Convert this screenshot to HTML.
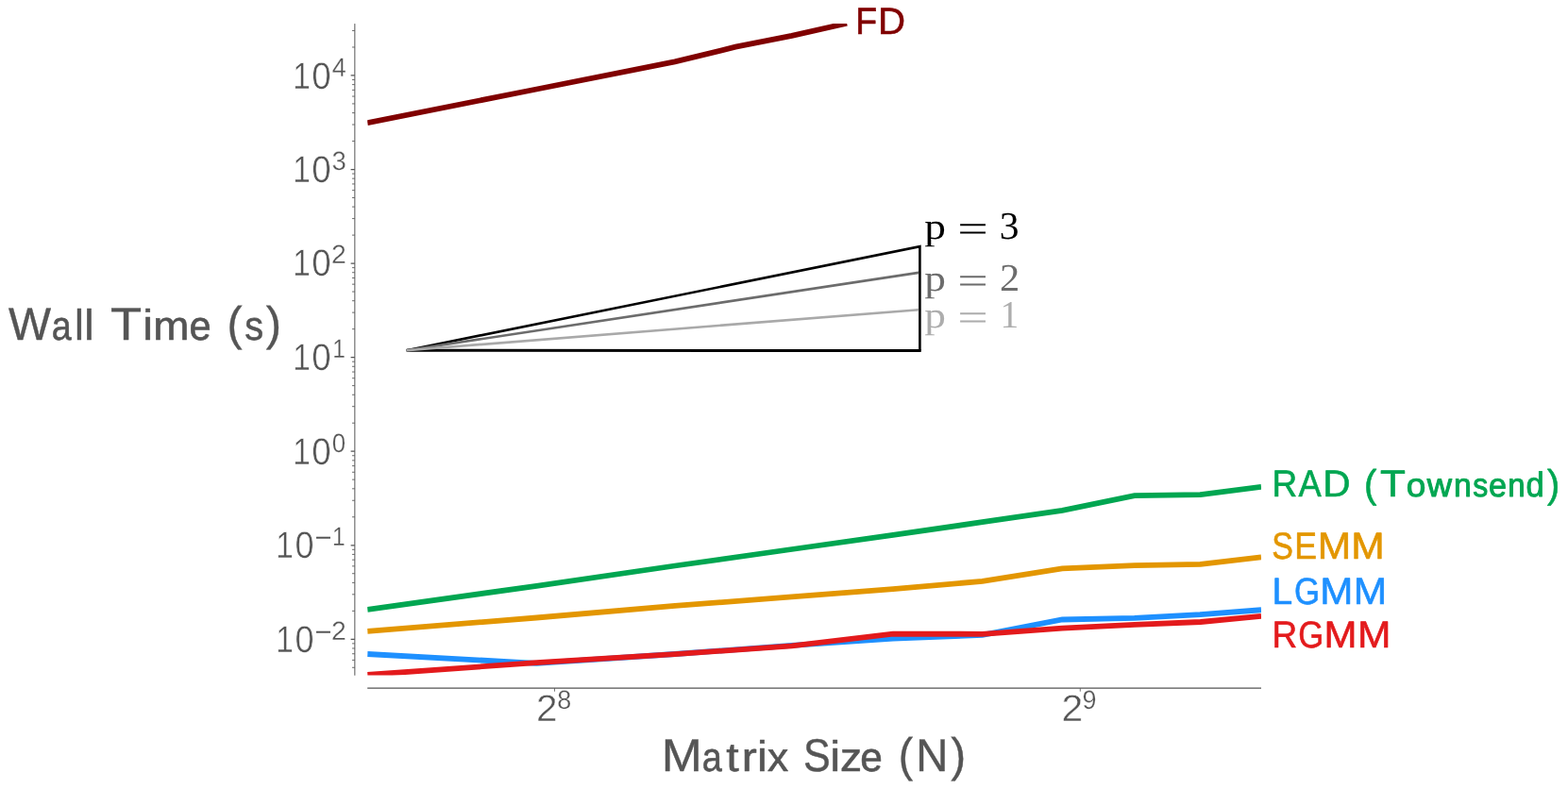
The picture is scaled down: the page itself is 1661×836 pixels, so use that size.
<!DOCTYPE html>
<html lang="en">
<head>
<meta charset="utf-8">
<title>Wall Time vs Matrix Size</title>
<style>
html,body{margin:0;padding:0;background:#ffffff;}
body{width:1661px;height:836px;overflow:hidden;}
svg{display:block;}
text{font-family:"Liberation Sans",sans-serif;text-rendering:geometricPrecision;}
.serif{font-family:"Liberation Serif",serif;}
</style>
</head>
<body>
<svg width="1661" height="836" viewBox="0 0 1661 836">
<defs><clipPath id="plot"><rect x="389.2" y="25.1" width="946.8" height="690.3"/></clipPath></defs>
<rect width="1661" height="836" fill="#ffffff"/>
<g stroke="#555555" fill="none">
<line x1="375.85" y1="25.1" x2="375.85" y2="715.7" stroke-width="1"/>
<line x1="389.2" y1="729.08" x2="1336" y2="729.08" stroke-width="1.15"/>
<path d="M371.6 677.32H375.85 M371.6 577.76H375.85 M371.6 478.2H375.85 M371.6 378.64H375.85 M371.6 279.08H375.85 M371.6 179.52H375.85 M371.6 79.96H375.85" stroke-width="1.25"/>
<path d="M373 707.29H375.85 M373 699.41H375.85 M373 692.74H375.85 M373 686.97H375.85 M373 681.88H375.85 M373 647.35H375.85 M373 629.82H375.85 M373 617.38H375.85 M373 607.73H375.85 M373 599.85H375.85 M373 593.18H375.85 M373 587.41H375.85 M373 582.32H375.85 M373 547.79H375.85 M373 530.26H375.85 M373 517.82H375.85 M373 508.17H375.85 M373 500.29H375.85 M373 493.62H375.85 M373 487.85H375.85 M373 482.76H375.85 M373 448.23H375.85 M373 430.7H375.85 M373 418.26H375.85 M373 408.61H375.85 M373 400.73H375.85 M373 394.06H375.85 M373 388.29H375.85 M373 383.2H375.85 M373 348.67H375.85 M373 331.14H375.85 M373 318.7H375.85 M373 309.05H375.85 M373 301.17H375.85 M373 294.5H375.85 M373 288.73H375.85 M373 283.64H375.85 M373 249.11H375.85 M373 231.58H375.85 M373 219.14H375.85 M373 209.49H375.85 M373 201.61H375.85 M373 194.94H375.85 M373 189.17H375.85 M373 184.08H375.85 M373 149.55H375.85 M373 132.02H375.85 M373 119.58H375.85 M373 109.93H375.85 M373 102.05H375.85 M373 95.38H375.85 M373 89.61H375.85 M373 84.52H375.85 M373 49.99H375.85 M373 32.46H375.85" stroke-width="0.85"/>
<path d="M587.5 729.08V732.68 M1144.3 729.08V732.68" stroke-width="0.8"/>
</g>
<g fill="#555555" font-size="39.8" stroke="#ffffff" stroke-width="0.5" stroke-linejoin="round">
<text y="94"><tspan x="310.23" textLength="18.6" lengthAdjust="spacingAndGlyphs">1</tspan><tspan x="330.36" textLength="20.49" lengthAdjust="spacingAndGlyphs">0</tspan><tspan y="81" font-size="27.9" stroke-width="0.26"><tspan x="351.67" textLength="15" lengthAdjust="spacingAndGlyphs">4</tspan></tspan></text>
<text y="193"><tspan x="310.23" textLength="18.6" lengthAdjust="spacingAndGlyphs">1</tspan><tspan x="330.36" textLength="20.49" lengthAdjust="spacingAndGlyphs">0</tspan><tspan y="180" font-size="27.9" stroke-width="0.26"><tspan x="351.46" textLength="15.32" lengthAdjust="spacingAndGlyphs">3</tspan></tspan></text>
<text y="292"><tspan x="310.23" textLength="18.6" lengthAdjust="spacingAndGlyphs">1</tspan><tspan x="330.36" textLength="20.49" lengthAdjust="spacingAndGlyphs">0</tspan><tspan y="279" font-size="27.9" stroke-width="0.26"><tspan x="351.07" textLength="15.77" lengthAdjust="spacingAndGlyphs">2</tspan></tspan></text>
<text y="392"><tspan x="310.23" textLength="18.6" lengthAdjust="spacingAndGlyphs">1</tspan><tspan x="330.36" textLength="20.49" lengthAdjust="spacingAndGlyphs">0</tspan><tspan y="379" font-size="27.9" stroke-width="0.26"><tspan x="352.3" textLength="13.65" lengthAdjust="spacingAndGlyphs">1</tspan></tspan></text>
<text y="492"><tspan x="310.23" textLength="18.6" lengthAdjust="spacingAndGlyphs">1</tspan><tspan x="330.36" textLength="20.49" lengthAdjust="spacingAndGlyphs">0</tspan><tspan y="479" font-size="27.9" stroke-width="0.26"><tspan x="351.83" textLength="14.36" lengthAdjust="spacingAndGlyphs">0</tspan></tspan></text>
<text y="591"><tspan x="292.23" textLength="18.6" lengthAdjust="spacingAndGlyphs">1</tspan><tspan x="312.39" textLength="20.14" lengthAdjust="spacingAndGlyphs">0</tspan><tspan y="579" font-size="27.9" stroke="none"><tspan x="333.48" textLength="17.99" lengthAdjust="spacingAndGlyphs">−</tspan></tspan><tspan y="578" font-size="27.9" stroke-width="0.26"><tspan x="352" textLength="13.65" lengthAdjust="spacingAndGlyphs">1</tspan></tspan></text>
<text y="691"><tspan x="292.23" textLength="18.6" lengthAdjust="spacingAndGlyphs">1</tspan><tspan x="312.39" textLength="20.14" lengthAdjust="spacingAndGlyphs">0</tspan><tspan y="679" font-size="27.9" stroke="none"><tspan x="333.48" textLength="17.99" lengthAdjust="spacingAndGlyphs">−</tspan></tspan><tspan y="678" font-size="27.9" stroke-width="0.26"><tspan x="351.07" textLength="15.77" lengthAdjust="spacingAndGlyphs">2</tspan></tspan></text>
<text y="764"><tspan x="568.12" textLength="22.48" lengthAdjust="spacingAndGlyphs">2</tspan><tspan y="751" font-size="27.9" stroke-width="0.26"><tspan x="590.16" textLength="14.99" lengthAdjust="spacingAndGlyphs">8</tspan></tspan></text>
<text y="764"><tspan x="1124.5" textLength="22.72" lengthAdjust="spacingAndGlyphs">2</tspan><tspan y="751" font-size="27.9" stroke-width="0.26"><tspan x="1146.56" textLength="14.99" lengthAdjust="spacingAndGlyphs">9</tspan></tspan></text>
</g>
<g fill="#555555" stroke="#555555" stroke-linejoin="round" font-size="48.8" stroke-width="0.4">
<text y="360"><tspan x="8.93" textLength="45.04" lengthAdjust="spacingAndGlyphs">W</tspan><tspan x="54.74" textLength="20.91" lengthAdjust="spacingAndGlyphs" font-size="43" stroke-width="0.6">a</tspan><tspan x="78.95" textLength="9.86" lengthAdjust="spacingAndGlyphs" font-size="45.5" stroke-width="0.4">l</tspan><tspan x="89.04" textLength="10.87" lengthAdjust="spacingAndGlyphs" font-size="45.5" stroke-width="0.4">l</tspan> <tspan x="117.09" textLength="33.17" lengthAdjust="spacingAndGlyphs">T</tspan><tspan x="150.91" textLength="11.25" lengthAdjust="spacingAndGlyphs" font-size="45.5" stroke-width="0.4">i</tspan><tspan x="162.25" textLength="38.24" lengthAdjust="spacingAndGlyphs" font-size="43" stroke-width="0.6">m</tspan><tspan x="200.58" textLength="23.18" lengthAdjust="spacingAndGlyphs" font-size="43" stroke-width="0.6">e</tspan> <tspan x="240.48" textLength="16.15" lengthAdjust="spacingAndGlyphs" font-size="50.2" stroke-width="0.4">(</tspan><tspan x="259.25" textLength="19.84" lengthAdjust="spacingAndGlyphs" font-size="43" stroke-width="0.6">s</tspan><tspan x="281.63" textLength="16.28" lengthAdjust="spacingAndGlyphs" font-size="50.2" stroke-width="0.4">)</tspan></text>
<text y="817"><tspan x="700.84" textLength="43.03" lengthAdjust="spacingAndGlyphs">M</tspan><tspan x="743.76" textLength="21.06" lengthAdjust="spacingAndGlyphs" font-size="43" stroke-width="0.6">a</tspan><tspan x="769.19" textLength="13.39" lengthAdjust="spacingAndGlyphs" font-size="43" stroke-width="0.6">t</tspan><tspan x="785.86" textLength="16.06" lengthAdjust="spacingAndGlyphs" font-size="43" stroke-width="0.6">r</tspan><tspan x="801.8" textLength="11.33" lengthAdjust="spacingAndGlyphs" font-size="45.5" stroke-width="0.4">i</tspan><tspan x="812.99" textLength="22.13" lengthAdjust="spacingAndGlyphs" font-size="43" stroke-width="0.6">x</tspan> <tspan x="850.94" textLength="28.67" lengthAdjust="spacingAndGlyphs">S</tspan><tspan x="878.95" textLength="11.33" lengthAdjust="spacingAndGlyphs" font-size="45.5" stroke-width="0.4">i</tspan><tspan x="889.92" textLength="23.06" lengthAdjust="spacingAndGlyphs" font-size="43" stroke-width="0.6">z</tspan><tspan x="911.3" textLength="23.59" lengthAdjust="spacingAndGlyphs" font-size="43" stroke-width="0.6">e</tspan> <tspan x="951.72" textLength="15.39" lengthAdjust="spacingAndGlyphs" font-size="50.2" stroke-width="0.4">(</tspan><tspan x="970.22" textLength="34.15" lengthAdjust="spacingAndGlyphs">N</tspan><tspan x="1007.24" textLength="15.9" lengthAdjust="spacingAndGlyphs" font-size="50.2" stroke-width="0.4">)</tspan></text>
</g>
<g clip-path="url(#plot)">
<path d="M389.2 130.1 L568.45 94.5 L714.91 65.4 L779.2 49.7 L838.73 37.9 L897.1 24.7" stroke="#800000" stroke-width="5.8" fill="none" stroke-linejoin="miter" stroke-linecap="butt"/>
<path d="M389.2 645.9 L568.45 620.8 L714.91 599.5 L838.73 582 L946 566.8 L1040.61 553.2 L1125.25 540.8 L1201.81 525.2 L1271.71 524.2 L1336 515.9" stroke="#00A651" stroke-width="5.8" fill="none" stroke-linejoin="miter" stroke-linecap="butt"/>
<path d="M389.2 668.9 L568.45 654.5 L714.91 641.9 L838.73 632.4 L946 624.1 L1040.61 615.9 L1125.25 602.4 L1201.81 599.2 L1271.71 597.9 L1336 590.4" stroke="#E39600" stroke-width="5.8" fill="none" stroke-linejoin="miter" stroke-linecap="butt"/>
<path d="M389.2 693 L568.45 702.8 L714.91 693 L838.73 683.9 L946 676.7 L1040.61 672.8 L1125.25 656.5 L1201.81 654.8 L1271.71 651.1 L1336 646.25" stroke="#1E90FF" stroke-width="5.8" fill="none" stroke-linejoin="miter" stroke-linecap="butt"/>
<path d="M389.2 714.95 L568.45 702.1 L714.91 693.15 L838.73 684.4 L946 671.6 L1040.61 671.8 L1125.25 665.7 L1201.81 661.9 L1271.71 659 L1336 652.8" stroke="#E31A1C" stroke-width="5.8" fill="none" stroke-linejoin="miter" stroke-linecap="butt"/>
</g>
<g fill="none" stroke-width="2.65" stroke-linejoin="miter">
<path d="M430.7 371.2L974.4 261.2V371.5" stroke="#000000" stroke-width="2.6"/>
<path d="M430.7 371.2L975.6999999999999 371.55" stroke="#000000" stroke-width="3"/>
<path d="M430.7 371.2L973.1999999999999 288.9" stroke="#6c6c6c"/>
<path d="M430.7 371.2L973.1999999999999 328.2" stroke="#a9a9a9"/>
</g>
<text class="serif" y="253" font-size="41.0" fill="#000000"><tspan x="979.27" textLength="22.67" lengthAdjust="spacingAndGlyphs" font-size="39.0">p</tspan> <tspan x="1014.19" textLength="32.53" lengthAdjust="spacingAndGlyphs" y="256">=</tspan> <tspan x="1058.87" textLength="20.77" lengthAdjust="spacingAndGlyphs" y="253">3</tspan></text>
<text class="serif" y="308" font-size="41.0" fill="#6c6c6c"><tspan x="979.27" textLength="22.67" lengthAdjust="spacingAndGlyphs" font-size="39.0">p</tspan> <tspan x="1014.19" textLength="32.53" lengthAdjust="spacingAndGlyphs" y="311">=</tspan> <tspan x="1059.09" textLength="21.25" lengthAdjust="spacingAndGlyphs" y="308">2</tspan></text>
<text class="serif" y="347" font-size="41.0" fill="#adadad"><tspan x="979.27" textLength="22.67" lengthAdjust="spacingAndGlyphs" font-size="39.0">p</tspan> <tspan x="1014.19" textLength="32.53" lengthAdjust="spacingAndGlyphs" y="350">=</tspan> <tspan x="1059.52" textLength="19.68" lengthAdjust="spacingAndGlyphs" y="347">1</tspan></text>
<g font-size="39.8" stroke-width="0.62" stroke-linejoin="round">
<text y="36" fill="#800000" stroke="#800000"><tspan x="906.25" textLength="22.88" lengthAdjust="spacingAndGlyphs">F</tspan><tspan x="929.92" textLength="29.06" lengthAdjust="spacingAndGlyphs">D</tspan></text>
<text y="526" fill="#00A651" stroke="#00A651"><tspan x="1347.49" textLength="26.75" lengthAdjust="spacingAndGlyphs">R</tspan><tspan x="1375.6" textLength="24.24" lengthAdjust="spacingAndGlyphs">A</tspan><tspan x="1401.3" textLength="29.3" lengthAdjust="spacingAndGlyphs">D</tspan> <tspan x="1445.08" textLength="13.33" lengthAdjust="spacingAndGlyphs" dy="1" font-size="41.5" stroke-width="0.62">(</tspan><tspan x="1462.05" textLength="26.92" lengthAdjust="spacingAndGlyphs" dy="-1">T</tspan><tspan x="1489.69" textLength="20.59" lengthAdjust="spacingAndGlyphs" font-size="35" stroke-width="0.95">o</tspan><tspan x="1511.67" textLength="26.25" lengthAdjust="spacingAndGlyphs" font-size="35" stroke-width="0.95">w</tspan><tspan x="1539.98" textLength="18.78" lengthAdjust="spacingAndGlyphs" font-size="35" stroke-width="0.95">n</tspan><tspan x="1560.36" textLength="16.01" lengthAdjust="spacingAndGlyphs" font-size="35" stroke-width="0.95">s</tspan><tspan x="1577.11" textLength="18.96" lengthAdjust="spacingAndGlyphs" font-size="35" stroke-width="0.95">e</tspan><tspan x="1597.23" textLength="18.39" lengthAdjust="spacingAndGlyphs" font-size="35" stroke-width="0.95">n</tspan><tspan x="1616.62" textLength="19.16" lengthAdjust="spacingAndGlyphs" font-size="36.8" stroke-width="0.84">d</tspan><tspan x="1638.97" textLength="13.17" lengthAdjust="spacingAndGlyphs" dy="1" font-size="41.5" stroke-width="0.62">)</tspan></text>
<text y="592" fill="#E39600" stroke="#E39600"><tspan x="1347.29" textLength="22.66" lengthAdjust="spacingAndGlyphs">S</tspan><tspan x="1371.3" textLength="23.79" lengthAdjust="spacingAndGlyphs">E</tspan><tspan x="1395.83" textLength="35.47" lengthAdjust="spacingAndGlyphs">M</tspan><tspan x="1431.23" textLength="35.47" lengthAdjust="spacingAndGlyphs">M</tspan></text>
<text y="640" fill="#1E90FF" stroke="#1E90FF"><tspan x="1347.42" textLength="21.71" lengthAdjust="spacingAndGlyphs">L</tspan><tspan x="1370.91" textLength="27.12" lengthAdjust="spacingAndGlyphs">G</tspan><tspan x="1398.27" textLength="35.09" lengthAdjust="spacingAndGlyphs">M</tspan><tspan x="1433.73" textLength="35.47" lengthAdjust="spacingAndGlyphs">M</tspan></text>
<text y="686" fill="#E31A1C" stroke="#E31A1C"><tspan x="1347.59" textLength="26.75" lengthAdjust="spacingAndGlyphs">R</tspan><tspan x="1375.27" textLength="27.01" lengthAdjust="spacingAndGlyphs">G</tspan><tspan x="1402.58" textLength="34.97" lengthAdjust="spacingAndGlyphs">M</tspan><tspan x="1437.93" textLength="35.47" lengthAdjust="spacingAndGlyphs">M</tspan></text>
</g>
</svg>
</body>
</html>
